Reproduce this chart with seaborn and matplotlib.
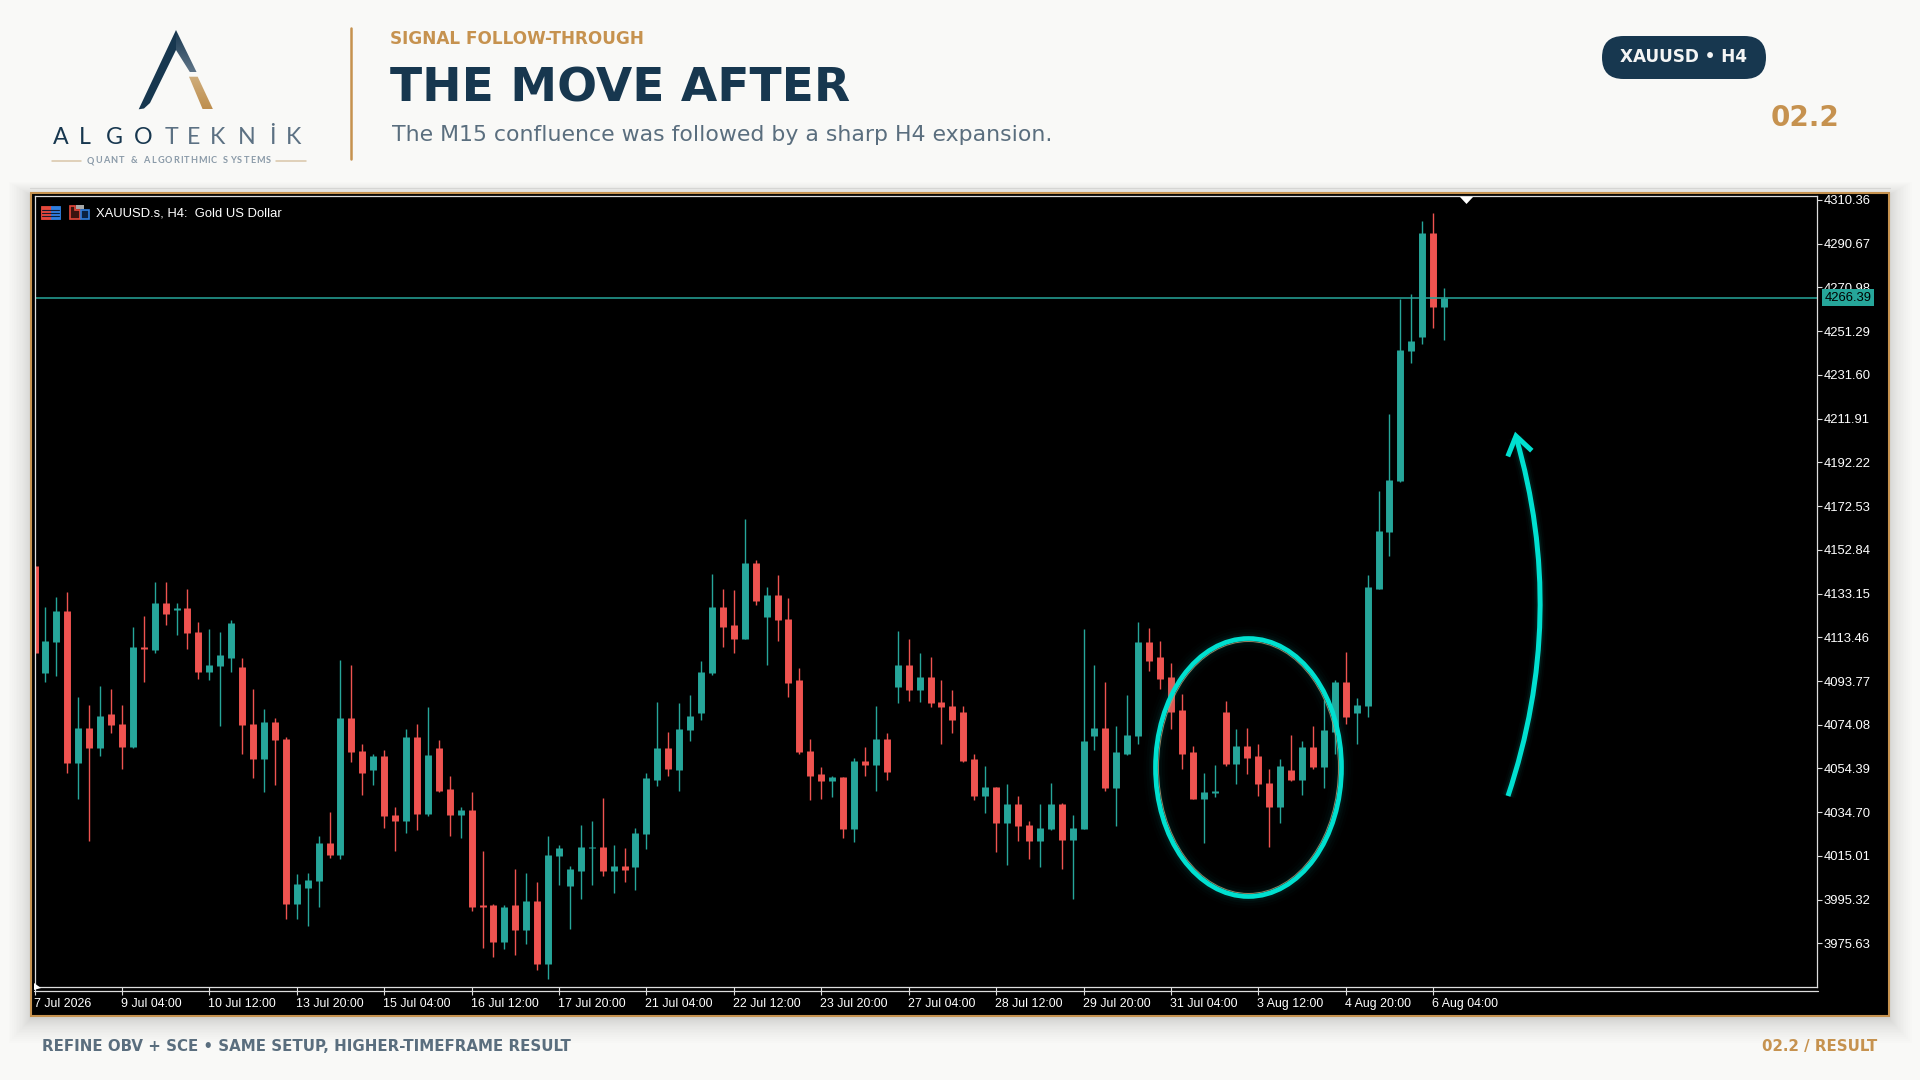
import numpy as np
import pandas as pd
import seaborn as sns
import matplotlib.pyplot as plt
from matplotlib.colors import LinearSegmentedColormap
from matplotlib.font_manager import FontProperties
from matplotlib.patches import Ellipse, FancyBboxPatch, PathPatch, Polygon, Rectangle
from matplotlib.path import Path
from matplotlib.textpath import TextPath
from matplotlib.transforms import ScaledTranslation

# candle values
candle_open = [
    4145.7, 4097.3, 4111.5, 4125.5, 4056.8, 4072.5, 4063.5, 4078.7, 4074.5, 4064.2,
    4108.9, 4107.8, 4128.7, 4125.8, 4126.7, 4115.8, 4097.9, 4100.5, 4104.2, 4100.3,
    4074.5, 4058.6, 4075.1, 4067.8, 3993.3, 4000.7, 4003.9, 4021.0, 4015.4, 4076.9,
    4062.2, 4053.7, 4059.8, 4033.3, 4030.9, 4068.4, 4034.0, 4063.4, 4045.0, 4033.3,
    4035.8, 3992.8, 3992.8, 3976.1, 3992.8, 3981.7, 3994.6, 3966.4, 4014.8, 4001.3,
    4008.1, 4018.6, 4019.2, 4008.1, 4010.4, 4009.9, 4024.7, 4049.3, 4063.4, 4053.7,
    4071.5, 4079.5, 4097.3, 4127.3, 4118.8, 4112.6, 4147.1, 4122.5, 4132.3, 4121.8,
    4094.2, 4062.2, 4051.7, 4048.7, 4050.5, 4027.1, 4057.9, 4056.0, 4067.8, 4091.2,
    4100.9, 4089.8, 4095.5, 4084.2, 4082.4, 4080.0, 4058.5, 4042.0, 4046.2, 4029.7,
    4038.2, 4029.1, 4021.7, 4027.1, 4038.2, 4022.3, 4027.1, 4068.9, 4072.5, 4045.6,
    4060.9, 4068.9, 4111.4, 4104.6, 4095.4, 4080.6, 4061.6, 4040.7, 4043.2, 4080.0,
    4056.6, 4064.6, 4059.8, 4047.9, 4037.0, 4053.7, 4049.3, 4064.0, 4054.9, 4070.9,
    4093.5, 4079.5, 4082.4, 4135.4, 4160.9, 4183.9, 4242.5, 4248.7, 4295.3, 4262.2,
]
candle_high = [
    4145.7, 4127.3, 4131.5, 4134.0, 4086.8, 4083.0, 4091.6, 4090.4, 4083.0, 4118.2,
    4123.0, 4138.4, 4138.4, 4128.7, 4135.4, 4120.5, 4117.4, 4115.8, 4121.2, 4104.1,
    4090.4, 4081.2, 4076.9, 4068.4, 4006.9, 4007.3, 4024.1, 4034.6, 4103.3, 4100.9,
    4065.4, 4061.0, 4062.8, 4037.0, 4072.1, 4074.5, 4081.9, 4067.2, 4051.1, 4037.0,
    4043.8, 4017.4, 3993.3, 3992.8, 4009.2, 4007.3, 4003.1, 4024.1, 4019.8, 4010.4,
    4028.9, 4030.7, 4041.2, 4019.8, 4018.6, 4027.7, 4052.3, 4084.2, 4070.8, 4083.7,
    4087.4, 4102.7, 4142.0, 4135.4, 4134.8, 4166.8, 4148.3, 4136.0, 4141.5, 4131.0,
    4099.7, 4067.8, 4054.9, 4051.1, 4050.5, 4059.0, 4064.0, 4082.4, 4070.2, 4116.3,
    4112.6, 4106.5, 4104.6, 4094.2, 4089.8, 4082.4, 4061.0, 4055.4, 4046.2, 4047.4,
    4042.0, 4030.9, 4038.2, 4048.0, 4038.8, 4033.3, 4117.0, 4100.9, 4093.5, 4073.3,
    4087.4, 4120.5, 4117.5, 4112.0, 4102.1, 4088.0, 4064.6, 4052.3, 4056.0, 4085.0,
    4072.1, 4072.5, 4065.2, 4054.2, 4058.5, 4069.6, 4066.6, 4073.3, 4085.3, 4094.2,
    4107.0, 4086.2, 4141.5, 4179.5, 4214.0, 4265.8, 4268.2, 4300.9, 4304.5, 4270.6,
]
candle_low = [
    4106.6, 4093.5, 4096.2, 4052.3, 4040.7, 4021.7, 4059.8, 4070.3, 4054.2, 4063.5,
    4093.5, 4106.6, 4118.9, 4114.5, 4108.4, 4094.8, 4094.2, 4073.3, 4097.9, 4061.0,
    4049.9, 4043.7, 4046.9, 3986.6, 3986.6, 3983.6, 3992.2, 4014.2, 4013.6, 4057.3,
    4042.5, 4046.9, 4027.7, 4017.4, 4025.3, 4026.5, 4032.8, 4043.8, 4024.1, 4022.9,
    3990.4, 3973.7, 3969.4, 3973.1, 3970.6, 3975.5, 3963.8, 3959.4, 4001.9, 3982.2,
    3995.8, 4001.9, 4006.2, 3998.3, 4003.1, 3999.5, 4018.0, 4046.3, 4051.1, 4044.4,
    4066.6, 4076.3, 4096.7, 4109.0, 4106.5, 4112.6, 4128.1, 4100.9, 4112.0, 4086.8,
    4061.0, 4040.0, 4040.7, 4041.4, 4022.9, 4021.5, 4051.1, 4044.4, 4049.3, 4083.7,
    4085.0, 4084.2, 4081.9, 4065.2, 4070.2, 4057.3, 4040.0, 4034.4, 4016.8, 4011.1,
    4021.7, 4013.6, 4009.9, 4026.5, 4009.2, 3995.8, 4027.1, 4062.8, 4044.4, 4028.3,
    4060.4, 4065.2, 4098.5, 4090.4, 4072.1, 4054.2, 4040.7, 4021.0, 4041.4, 4055.4,
    4047.3, 4051.7, 4042.0, 4019.2, 4029.7, 4048.7, 4042.5, 4054.2, 4045.6, 4061.0,
    4074.5, 4065.2, 4077.5, 4135.1, 4150.2, 4183.4, 4237.0, 4245.7, 4252.9, 4247.5,
]
candle_close = [
    4106.6, 4112.0, 4125.5, 4056.8, 4072.5, 4063.5, 4078.1, 4073.9, 4064.2, 4108.9,
    4108.0, 4128.7, 4123.9, 4126.7, 4115.2, 4097.9, 4100.9, 4105.3, 4120.0, 4073.9,
    4058.6, 4075.1, 4067.2, 3993.3, 4002.5, 4004.3, 4021.0, 4015.4, 4076.9, 4061.6,
    4052.3, 4059.8, 4032.8, 4030.9, 4068.4, 4034.0, 4060.4, 4044.4, 4033.3, 4035.8,
    3992.2, 3992.2, 3976.1, 3992.2, 3981.7, 3994.6, 3966.4, 4015.4, 4018.6, 4009.2,
    4019.2, 4019.2, 4008.1, 4010.4, 4008.8, 4025.3, 4049.9, 4063.4, 4054.2, 4072.1,
    4078.1, 4097.9, 4127.3, 4118.2, 4112.6, 4147.1, 4129.9, 4132.3, 4121.3, 4093.0,
    4061.6, 4051.1, 4048.7, 4050.5, 4027.1, 4057.9, 4056.0, 4067.8, 4053.0, 4100.9,
    4089.8, 4095.5, 4083.7, 4081.9, 4076.3, 4057.9, 4042.0, 4046.2, 4029.7, 4038.2,
    4028.5, 4021.7, 4027.7, 4038.2, 4022.3, 4027.7, 4066.6, 4072.5, 4045.6, 4061.6,
    4069.6, 4111.4, 4102.7, 4094.8, 4080.0, 4061.0, 4040.7, 4043.7, 4044.4, 4056.6,
    4064.6, 4059.0, 4047.3, 4037.0, 4055.4, 4049.3, 4064.0, 4054.9, 4071.5, 4093.5,
    4077.5, 4083.0, 4136.0, 4161.1, 4184.5, 4243.0, 4246.7, 4295.3, 4262.2, 4266.39,
]
last_price = 4266.39
price_ticks = [4310.36, 4290.67, 4270.98, 4251.29, 4231.60, 4211.91, 4192.22, 4172.53, 4152.84,
               4133.15, 4113.46, 4093.77, 4074.08, 4054.39, 4034.70, 4015.01, 3995.32, 3975.63]
time_labels = ["7 Jul 2026", "9 Jul 04:00", "10 Jul 12:00", "13 Jul 20:00", "15 Jul 04:00", "16 Jul 12:00",
               "17 Jul 20:00", "21 Jul 04:00", "22 Jul 12:00", "23 Jul 20:00", "27 Jul 04:00", "28 Jul 12:00",
               "29 Jul 20:00", "31 Jul 04:00", "3 Aug 12:00", "4 Aug 20:00", "6 Aug 04:00"]

W, H = 1920, 1080
PAPER = "#F9F9F7"
NAVY = "#17374F"
GOLD = "#C6924F"
SLATE = "#5A6E7E"
TEAL = "#26A69A"
RED = "#EF5350"
CYAN = "#00E0D0"
CHART_FONT = "Liberation Sans"

sns.set_style("white")
fig = plt.figure(figsize=(W / 100, H / 100), dpi=100, facecolor=PAPER)


def pixel_axes(zorder):
    a = fig.add_axes([0, 0, 1, 1], zorder=zorder, facecolor="none")
    a.set_axis_off()
    return a


def set_pixel_limits(a):
    a.set_xlim(0, W)
    a.set_ylim(H, 0)


def gradient_poly(a, pts, top, bottom):
    patch = Polygon(pts, closed=True, fc="none", ec="none")
    a.add_patch(patch)
    xs, ys = zip(*pts)
    cmap = LinearSegmentedColormap.from_list("g", [top, bottom])
    im = a.imshow(np.linspace(0, 1, 64)[:, None], cmap=cmap, aspect="auto",
                  extent=(min(xs), max(xs), max(ys), min(ys)))
    im.set_clip_path(patch)


def tracked_text(a, x0, x1, y, s, size, family, weight, color):
    # matplotlib has no letter spacing, so measure the glyphs and share out the gap
    prop = FontProperties(family=family, weight=weight)
    px = size * 100 / 72
    widths = [px * 0.3 if ch == " " else TextPath((0, 0), ch, size=px, prop=prop).get_extents().width for ch in s]
    gap = (x1 - x0 - sum(widths)) / (len(s) - 1)
    x = x0
    for ch, w in zip(s, widths):
        a.text(x + w / 2, y, ch, ha="center", va="center", fontsize=size, fontproperties=prop, color=color)
        x += w + gap


base = pixel_axes(0)
top = pixel_axes(3)
set_pixel_limits(base)
set_pixel_limits(top)

# panel shadow and frame
for step in range(1, 21):
    spread = 22 * (step / 20) ** 1.8
    base.add_patch(Rectangle((30.5 - spread, 192 - spread * 0.6 + 3), 1859 + spread * 2,
                             824 + spread * 1.7, fc="black", ec="none", alpha=0.009))
base.plot([30, 1890], [188, 188], color="#D6D6D4", lw=0.9)
base.add_patch(Rectangle((31, 193), 1858, 823, fc="black", ec=GOLD, lw=1.5))

# header
gradient_poly(base, [(176, 30), (176, 50), (190, 72.3), (196.7, 72.3)], NAVY, "#5E7487")
base.add_patch(Polygon([(176, 30), (138.7, 109.3), (144, 108.5), (150, 103), (176, 50)], fc=NAVY, ec="none"))
gradient_poly(base, [(189, 76.7), (197.7, 76.7), (213, 109.3), (202.7, 109.3)], "#CFAE7C", "#BE8E4E")
set_pixel_limits(base)
brand_x = [61, 85, 114, 143.3, 171.7, 193.3, 218, 246.7, 272.7, 294]
for i, (x, ch) in enumerate(zip(brand_x, "ALGOTEKNİK")):
    base.text(x, 137, ch, ha="center", va="center", fontsize=16.7, family="Lato",
              color=NAVY if i < 4 else "#5C7183")
tracked_text(base, 86.7, 270.7, 160.7, "QUANT & ALGORITHMIC SYSTEMS", 6.6, "Lato", "bold", "#8A9AA8")
base.plot([51.7, 80.7], [161, 161], color="#D9C6A8", lw=1.1)
base.plot([276, 306], [161, 161], color="#D9C6A8", lw=1.1)
base.plot([351, 351], [28, 159], color=GOLD, lw=1.8)
base.text(390, 39, "SIGNAL FOLLOW-THROUGH", fontsize=12.2, fontweight="bold", color=GOLD, va="center", family="DejaVu Sans")
base.text(390, 89, "THE MOVE AFTER", fontsize=33.8, fontweight="bold", color=NAVY, va="center", family="DejaVu Sans")
base.text(392, 135, "The M15 confluence was followed by a sharp H4 expansion.", fontsize=15.8,
          color=SLATE, va="center", family="DejaVu Sans")
base.add_patch(FancyBboxPatch((1602, 36), 164, 43, boxstyle="round,pad=0,rounding_size=21.5", fc=NAVY, ec="none"))
base.text(1684, 56.5, "XAUUSD • H4", fontsize=12.2, fontweight="bold", color="#F4F5F5", ha="center", va="center", family="DejaVu Sans")
base.text(1805, 118.5, "02.2", fontsize=20, fontweight="bold", color=GOLD, ha="center", va="center", family="DejaVu Sans")

# footer
base.text(42, 1046.5, "REFINE OBV + SCE • SAME SETUP, HIGHER-TIMEFRAME RESULT", fontsize=10.85,
          fontweight="bold", color=SLATE, va="center", family="DejaVu Sans")
base.text(1877, 1046.5, "02.2 / RESULT", fontsize=10.85, fontweight="bold", color=GOLD, ha="right", va="center", family="DejaVu Sans")

# candles
candles = pd.DataFrame({"open": candle_open, "high": candle_high, "low": candle_low, "close": candle_close})
candles["candle"] = candles.index
candles["side"] = np.where(candles["close"] >= candles["open"], "up", "down")
wicks = candles.melt(id_vars=["candle", "side"], value_vars=["high", "low"], value_name="price")
bodies = candles.melt(id_vars=["candle", "side"], value_vars=["open", "close"], value_name="price")
colors = {"up": TEAL, "down": RED}

AX_L, AX_R, AX_T, AX_B = 34.5, 1817.5, 196, 987
ax = fig.add_axes([AX_L / W, 1 - AX_B / H, (AX_R - AX_L) / W, (AX_B - AX_T) / H], zorder=1, facecolor="black")
sns.lineplot(data=wicks, x="candle", y="price", hue="side", units="candle", estimator=None, palette=colors,
             linewidth=1.0, legend=False, ax=ax, solid_capstyle="butt")
sns.lineplot(data=bodies, x="candle", y="price", hue="side", units="candle", estimator=None, palette=colors,
             linewidth=5.0, legend=False, ax=ax, solid_capstyle="butt")
ax.axhline(last_price, color=TEAL, lw=1.1)

ax.set_xlim(0.04, 163.17)
ax.set_ylim(3956.0, 4312.16)
ax.set(xlabel="", ylabel="")
ax.yaxis.tick_right()
ax.set_yticks(price_ticks)
ax.set_yticklabels([f"{p:.2f}" for p in price_ticks], fontsize=9.4, family=CHART_FONT, color="white")
ax.set_xticks(range(0, len(candle_open), 8))
ax.set_xticklabels(time_labels, fontsize=8.9, family=CHART_FONT, color="white", ha="left")
ax.tick_params(axis="y", right=True, left=False, length=3.6, width=0.8, color="#DDDDDD", pad=0.8)
ax.tick_params(axis="x", bottom=True, length=5.8, width=0.8, color="#DDDDDD", pad=2.3)
nudge = ScaledTranslation(-1 / 100, 0, fig.dpi_scale_trans)
for label in ax.get_xticklabels():
    label.set_transform(label.get_transform() + nudge)
for side in ax.spines.values():
    side.set_color("#DDDDDD")
    side.set_linewidth(0.9)

ax.text(1.0038, last_price, f"{last_price:.2f}", transform=ax.get_yaxis_transform(), fontsize=9.4, family=CHART_FONT,
        color="black", va="center", ha="left", zorder=6, clip_on=False,
        bbox=dict(boxstyle="square,pad=0.2", fc=TEAL, ec="none"))

# chart chrome in pixels
top.plot([34, 1817.5], [990.5, 990.5], color="#DDDDDD", lw=0.9)
top.add_patch(Polygon([(1460, 197), (1473, 197), (1466.5, 204)], fc="white", ec="none"))
top.add_patch(Polygon([(34, 983), (41, 988), (34, 990)], fc="white", ec="none"))
top.text(96, 213, "XAUUSD.s, H4:  Gold US Dollar", fontsize=9.4, family=CHART_FONT, color="white", va="center")
top.add_patch(Rectangle((40.5, 205.5), 10, 13.5, fc="#E5483C", ec="#E5483C", lw=0.6))
top.add_patch(Rectangle((50.5, 205.5), 9.5, 13.5, fc="#2F7FE0", ec="#2F7FE0", lw=0.6))
for yy in (209.5, 212.5, 215.5):
    top.plot([42, 59], [yy, yy], color="#141B30", lw=0.8)
top.add_patch(Polygon([(69.5, 206), (75, 206), (75, 210), (80, 210), (80, 219), (69.5, 219)],
                      fc="#3A1410", ec="#E5483C", lw=1.2))
top.add_patch(Rectangle((80.5, 210), 8, 9, fc="#0B2242", ec="#2F7FE0", lw=1.2))
top.add_patch(Rectangle((75.5, 205), 8.5, 4, fc="#A8A8A8", ec="none"))

# highlight ellipse with glow
EC = (1248.5, 767.5)
for extra, alpha in [(14, 0.012), (10, 0.018), (6, 0.03), (3, 0.05)]:
    top.add_patch(Ellipse(EC, 186, 258, fc="none", ec=CYAN, lw=3.4 + extra, alpha=alpha))
top.add_patch(Ellipse(EC, 180, 252, fc="none", ec="#B8A27A", lw=0.7, alpha=0.8))
top.add_patch(Ellipse(EC, 186, 258, fc="none", ec=CYAN, lw=3.4))

# arrow
curve = Path([(1508, 796), (1568, 616), (1516, 437)], [Path.MOVETO, Path.CURVE3, Path.CURVE3])
for extra, alpha in [(8, 0.02), (5, 0.04), (2.5, 0.07)]:
    top.add_patch(PathPatch(curve, fc="none", ec=CYAN, lw=3.6 + extra, alpha=alpha))
top.add_patch(PathPatch(curve, fc="none", ec=CYAN, lw=3.6, capstyle="butt"))
top.plot([1507.8, 1516, 1531.8], [456.4, 436, 450.7], color=CYAN, lw=3.6, solid_joinstyle="miter", solid_capstyle="butt")
set_pixel_limits(top)

fig.savefig("out.png", dpi=100, facecolor=PAPER)
